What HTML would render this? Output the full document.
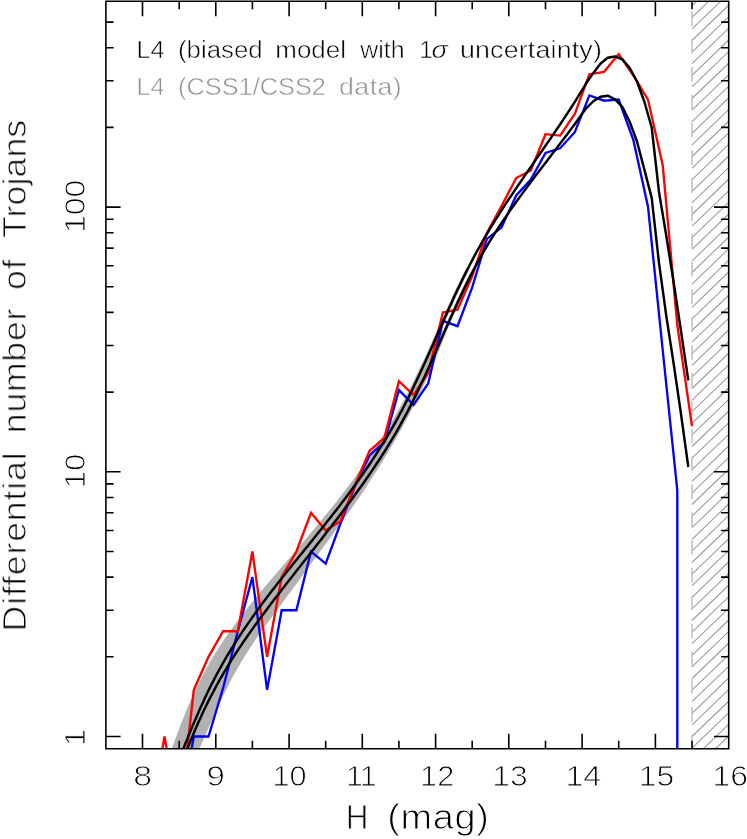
<!DOCTYPE html>
<html lang="en"><head><meta charset="utf-8"><title>L4 Trojans differential H distribution</title>
<style>
html,body{margin:0;padding:0;background:#fff;}
body{width:747px;height:839px;overflow:hidden;}
svg{display:block;}
text{font-family:"Liberation Sans",sans-serif;}
.thin{stroke:#fff;stroke-width:0.55px;paint-order:fill stroke;}
.thin2{stroke:#fff;stroke-width:0.95px;paint-order:fill stroke;}
</style></head><body>
<svg width="747" height="839" viewBox="0 0 747 839">
<rect width="747" height="839" fill="#fff"/>
<defs><clipPath id="plot"><rect x="105.9" y="1.2" width="622.8" height="747.6"/></clipPath></defs>
<g clip-path="url(#plot)" fill="none" stroke-linejoin="miter" stroke-miterlimit="3">
<path d="M692.0 -5.9 L728.7 -41.2 M692.0 5.7 L728.7 -29.6 M692.0 17.3 L728.7 -18.0 M692.0 28.9 L728.7 -6.4 M692.0 40.5 L728.7 5.2 M692.0 52.1 L728.7 16.8 M692.0 63.7 L728.7 28.4 M692.0 75.3 L728.7 40.0 M692.0 86.9 L728.7 51.6 M692.0 98.5 L728.7 63.2 M692.0 110.1 L728.7 74.8 M692.0 121.7 L728.7 86.4 M692.0 133.3 L728.7 98.0 M692.0 144.9 L728.7 109.6 M692.0 156.5 L728.7 121.2 M692.0 168.1 L728.7 132.8 M692.0 179.7 L728.7 144.4 M692.0 191.3 L728.7 156.0 M692.0 202.9 L728.7 167.6 M692.0 214.5 L728.7 179.2 M692.0 226.1 L728.7 190.8 M692.0 237.7 L728.7 202.4 M692.0 249.3 L728.7 214.0 M692.0 260.9 L728.7 225.6 M692.0 272.5 L728.7 237.2 M692.0 284.1 L728.7 248.8 M692.0 295.7 L728.7 260.4 M692.0 307.3 L728.7 272.0 M692.0 318.9 L728.7 283.6 M692.0 330.5 L728.7 295.2 M692.0 342.1 L728.7 306.8 M692.0 353.7 L728.7 318.4 M692.0 365.3 L728.7 330.0 M692.0 376.9 L728.7 341.6 M692.0 388.5 L728.7 353.2 M692.0 400.1 L728.7 364.8 M692.0 411.7 L728.7 376.4 M692.0 423.3 L728.7 388.0 M692.0 434.9 L728.7 399.6 M692.0 446.5 L728.7 411.2 M692.0 458.1 L728.7 422.8 M692.0 469.7 L728.7 434.4 M692.0 481.3 L728.7 446.0 M692.0 492.9 L728.7 457.6 M692.0 504.5 L728.7 469.2 M692.0 516.1 L728.7 480.8 M692.0 527.7 L728.7 492.4 M692.0 539.3 L728.7 504.0 M692.0 550.9 L728.7 515.6 M692.0 562.5 L728.7 527.2 M692.0 574.1 L728.7 538.8 M692.0 585.7 L728.7 550.4 M692.0 597.3 L728.7 562.0 M692.0 608.9 L728.7 573.6 M692.0 620.5 L728.7 585.2 M692.0 632.1 L728.7 596.8 M692.0 643.7 L728.7 608.4 M692.0 655.3 L728.7 620.0 M692.0 666.9 L728.7 631.6 M692.0 678.5 L728.7 643.2 M692.0 690.1 L728.7 654.8 M692.0 701.7 L728.7 666.4 M692.0 713.3 L728.7 678.0 M692.0 724.9 L728.7 689.6 M692.0 736.5 L728.7 701.2 M692.0 748.1 L728.7 712.8 M692.0 759.7 L728.7 724.4 M692.0 771.3 L728.7 736.0 M692.0 782.9 L728.7 747.6 M692.0 794.5 L728.7 759.2 M692.0 806.1 L728.7 770.8 M692.0 817.7 L728.7 782.4" stroke="#999" stroke-width="1.05"/>
<path d="M692.0 -16.63 V748.8" stroke="#c0c0c0" stroke-width="1.5" stroke-dasharray="14.7 13.13" stroke-dashoffset="0"/>
<path d="M165.7 765.9 L167.1 762.0 L168.5 758.1 L169.8 754.2 L171.2 750.3 L172.6 746.4 L174.0 742.5 L175.4 738.7 L176.8 734.9 L178.2 731.1 L179.7 727.3 L181.1 723.5 L182.6 719.8 L184.1 716.0 L185.6 712.3 L187.1 708.6 L188.7 704.9 L190.3 701.3 L191.9 697.7 L193.5 694.0 L195.2 690.5 L196.9 686.9 L198.6 683.3 L200.4 679.8 L202.2 676.3 L204.0 672.8 L205.9 669.3 L207.8 665.9 L209.7 662.5 L211.7 659.1 L213.7 655.7 L215.8 652.3 L217.9 649.0 L220.0 645.7 L222.2 642.4 L224.4 639.1 L226.7 635.9 L229.0 632.6 L231.3 629.4 L233.6 626.2 L236.0 623.0 L238.4 619.8 L240.8 616.6 L243.2 613.5 L245.7 610.3 L248.2 607.2 L250.7 604.0 L253.2 600.9 L255.7 597.8 L258.3 594.7 L260.8 591.6 L263.4 588.5 L266.0 585.5 L268.6 582.4 L271.2 579.3 L273.8 576.3 L276.5 573.2 L279.1 570.1 L281.7 567.1 L284.4 564.0 L287.0 561.0 L289.6 557.9 L292.3 554.8 L294.9 551.8 L297.5 548.7 L300.1 545.6 L302.7 542.6 L305.3 539.5 L307.9 536.4 L310.5 533.3 L313.1 530.2 L315.7 527.1 L318.2 524.0 L320.8 520.9 L323.3 517.8 L325.9 514.7 L328.4 511.6 L330.9 508.5 L333.4 505.3 L335.9 502.2 L338.3 499.0 L340.8 495.9 L343.2 492.7 L345.7 489.5 L348.1 486.4 L350.5 483.2 L352.9 480.0 L355.2 476.8 L357.6 473.5 L359.9 470.3 L362.2 467.1 L364.5 463.8 L366.8 460.6 L369.0 457.3 L371.3 454.0 L373.5 450.7 L375.7 447.4 L377.8 444.1 L380.0 440.8 L382.1 437.5 L384.2 434.1 L386.3 430.7 L388.3 427.4 L390.4 424.0 L392.4 420.6 L394.4 417.2 L396.3 413.7 L398.2 410.3 L400.2 406.8 L402.0 403.4 L403.9 399.9 L405.8 396.4 L407.6 392.9 L409.4 389.3 L411.2 385.8 L413.0 382.2 L414.8 378.6 L416.5 375.0 L418.3 371.4 L420.0 367.8 L421.7 364.1 L423.5 360.5 L425.2 356.8 L426.9 353.1 L428.6 349.3 L430.3 345.6 L432.0 341.8 L433.7 338.1 L435.4 334.3 L437.1 330.4 L437.7 329.0 L446.2 331.6 L445.9 332.4 L444.5 336.3 L443.0 340.1 L441.6 343.9 L440.1 347.7 L438.6 351.5 L437.1 355.3 L435.5 359.0 L433.9 362.7 L432.3 366.5 L430.7 370.2 L429.1 373.9 L427.4 377.5 L425.7 381.2 L424.0 384.8 L422.3 388.4 L420.6 392.1 L418.8 395.7 L417.0 399.2 L415.2 402.8 L413.4 406.4 L411.6 409.9 L409.8 413.4 L407.9 417.0 L406.0 420.5 L404.1 424.0 L402.2 427.5 L400.3 430.9 L398.4 434.4 L396.4 437.8 L394.5 441.3 L392.5 444.7 L390.5 448.1 L388.5 451.5 L386.5 454.9 L384.4 458.3 L382.4 461.7 L380.3 465.1 L378.2 468.4 L376.1 471.8 L373.9 475.1 L371.8 478.5 L369.6 481.8 L367.5 485.1 L365.3 488.4 L363.0 491.7 L360.8 495.0 L358.6 498.3 L356.3 501.6 L354.0 504.9 L351.7 508.2 L349.4 511.4 L347.1 514.7 L344.7 518.0 L342.4 521.2 L340.0 524.5 L337.6 527.7 L335.3 530.9 L332.9 534.2 L330.5 537.4 L328.1 540.6 L325.8 543.9 L323.4 547.1 L321.0 550.3 L318.7 553.5 L316.3 556.7 L313.9 559.9 L311.6 563.1 L309.2 566.4 L306.9 569.6 L304.5 572.8 L302.2 576.0 L299.8 579.2 L297.5 582.4 L295.1 585.6 L292.7 588.8 L290.4 592.1 L288.0 595.3 L285.6 598.5 L283.2 601.7 L280.8 605.0 L278.4 608.2 L276.0 611.4 L273.6 614.7 L271.1 617.9 L268.8 621.2 L266.4 624.5 L264.0 627.8 L261.6 631.0 L259.3 634.3 L257.0 637.6 L254.7 640.9 L252.5 644.3 L250.3 647.6 L248.1 650.9 L245.9 654.3 L243.8 657.7 L241.8 661.0 L239.8 664.4 L237.8 667.8 L235.9 671.2 L234.0 674.7 L232.1 678.1 L230.3 681.6 L228.6 685.0 L226.8 688.5 L225.1 692.0 L223.4 695.5 L221.7 699.0 L220.0 702.6 L218.4 706.1 L216.7 709.7 L215.1 713.3 L213.5 716.9 L211.8 720.6 L210.2 724.2 L208.6 727.9 L207.0 731.6 L205.3 735.3 L203.7 739.0 L202.0 742.7 L200.4 746.5 L198.7 750.3 L197.0 754.1 L195.3 757.9 L193.5 761.7 L191.7 765.6Z" fill="#b2b2b2" stroke="none"/>
<path d="M416.5 380.7 L418.2 377.1 L419.9 373.5 L421.6 369.8 L423.2 366.2 L424.9 362.6 L426.5 358.9 L428.2 355.2 L429.8 351.6 L431.4 347.9 L433.1 344.2 L434.7 340.6 L436.3 336.9 L437.9 333.2 L439.5 329.6 L441.2 325.9 L442.8 322.2 L444.4 318.5 L446.1 314.9 L447.7 311.2 L449.3 307.6 L451.0 303.9 L452.7 300.2 L454.3 296.6 L456.0 293.0 L457.7 289.3 L459.5 285.7 L461.2 282.1 L462.9 278.5 L464.7 274.9 L466.5 271.3 L468.3 267.7" stroke="#b2b2b2" stroke-width="3.6"/>
<path d="M420.6 385.1 L422.3 381.5 L424.0 377.9 L425.7 374.2 L427.3 370.6 L429.0 367.0 L430.6 363.3 L432.2 359.6 L433.8 356.0 L435.5 352.3 L437.1 348.7 L438.7 345.0 L440.3 341.3 L441.9 337.7 L443.5 334.0 L445.1 330.3 L446.8 326.6 L448.4 323.0 L450.0 319.3 L451.6 315.7 L453.3 312.0 L455.0 308.4 L456.6 304.7 L458.3 301.1 L460.0 297.4 L461.7 293.8 L463.4 290.2 L465.2 286.6 L466.9 283.0 L468.7 279.4 L470.5 275.9 L472.4 272.3 L474.2 268.7" stroke="#b2b2b2" stroke-width="3.6"/>
<path d="M179.2 821.0 L193.8 736.5 L208.5 736.5 L223.1 688.0 L237.8 631.2 L252.4 577.1 L267.1 689.9 L281.7 610.2 L296.4 610.2 L311.0 551.5 L325.7 563.6 L340.3 524.0 L355.0 486.0 L369.6 455.0 L384.3 442.3 L398.9 390.1 L413.6 404.8 L428.2 383.4 L442.9 320.9 L457.5 326.2 L472.2 287.4 L486.9 238.9 L501.5 227.6 L516.2 195.4 L530.8 179.5 L545.5 153.0 L560.1 148.3 L574.8 132.2 L589.4 95.4 L604.1 100.7 L618.7 99.6 L633.4 140.2 L648.0 206.7 L662.7 350.0 L677.3 490.2 L677.3 800.0" stroke="#0000ff" stroke-width="2.35"/>
<path d="M149.9 821.0 L164.5 736.5 L179.2 821.0 L193.8 689.9 L208.5 656.8 L223.1 631.2 L237.8 631.2 L252.4 551.5 L267.1 656.8 L281.7 577.1 L296.4 551.5 L311.0 512.8 L325.7 530.5 L340.3 521.3 L355.0 485.0 L369.6 450.8 L384.3 438.0 L398.9 381.2 L413.6 395.0 L428.2 372.7 L442.9 312.4 L457.5 309.6 L472.2 276.0 L486.9 232.9 L501.5 206.1 L516.2 178.0 L530.8 170.5 L545.5 134.2 L560.1 135.6 L574.8 114.0 L589.4 74.2 L604.1 71.8 L618.7 54.1 L633.4 75.5 L648.0 99.6 L662.7 164.9 L677.3 325.0 L692.0 426.2" stroke="#ff0000" stroke-width="2.35"/>
<path d="M176.5 766.2 L178.0 762.2 L179.6 758.3 L181.1 754.3 L182.6 750.4 L184.2 746.6 L185.7 742.7 L187.3 738.9 L188.8 735.1 L190.4 731.3 L191.9 727.5 L193.5 723.8 L195.1 720.1 L196.7 716.4 L198.3 712.7 L199.9 709.1 L201.5 705.5 L203.2 701.9 L204.8 698.3 L206.5 694.7 L208.2 691.1 L209.9 687.6 L211.7 684.1 L213.5 680.6 L215.3 677.1 L217.1 673.6 L219.0 670.2 L220.9 666.8 L222.8 663.3 L224.8 659.9 L226.7 656.5 L228.8 653.2 L230.8 649.8 L232.9 646.5 L235.0 643.1 L237.1 639.8 L239.3 636.5 L241.4 633.2 L243.6 629.9 L245.9 626.6 L248.1 623.4 L250.4 620.1 L252.7 616.8 L255.0 613.6 L257.3 610.4 L259.7 607.1 L262.0 603.9 L264.4 600.7 L266.8 597.5 L269.3 594.3 L271.7 591.1 L274.2 587.9 L276.6 584.8 L279.1 581.6 L281.6 578.4 L284.1 575.3 L286.7 572.1 L289.2 568.9 L291.7 565.8 L294.2 562.6 L296.8 559.5 L299.3 556.3 L301.9 553.2 L304.4 550.0 L307.0 546.9 L309.5 543.7 L312.1 540.6 L314.6 537.4 L317.1 534.3 L319.7 531.1 L322.2 528.0 L324.7 524.8 L327.2 521.6 L329.7 518.5 L332.2 515.3 L334.7 512.1 L337.1 509.0 L339.6 505.8 L342.0 502.6 L344.4 499.4 L346.8 496.2 L349.2 493.0 L351.6 489.8 L353.9 486.5 L356.3 483.3 L358.6 480.1 L360.9 476.8 L363.2 473.5 L365.4 470.3 L367.7 467.0 L369.9 463.7 L372.1 460.4 L374.3 457.1 L376.4 453.8 L378.5 450.4 L380.7 447.1 L382.8 443.7 L384.8 440.3 L386.9 437.0 L388.9 433.6 L390.9 430.1 L392.9 426.7 L394.8 423.3 L396.8 419.8 L398.7 416.3 L400.5 412.8 L402.4 409.3 L404.2 405.8 L406.0 402.2 L407.8 398.7 L409.6 395.1 L411.4 391.5 L413.1 387.9 L414.8 384.3 L416.5 380.7 L418.2 377.1 L419.9 373.5 L421.6 369.8 L423.2 366.2 L424.9 362.6 L426.5 358.9 L428.2 355.2 L429.8 351.6 L431.4 347.9 L433.1 344.2 L434.7 340.6 L436.3 336.9 L437.9 333.2 L439.5 329.6 L441.2 325.9 L442.8 322.2 L444.4 318.5 L446.1 314.9 L447.7 311.2 L449.3 307.6 L451.0 303.9 L452.7 300.2 L454.3 296.6 L456.0 293.0 L457.7 289.3 L459.5 285.7 L461.2 282.1 L462.9 278.5 L464.7 274.9 L466.5 271.3 L468.3 267.7 L470.1 264.2 L472.0 260.6 L473.8 257.1 L475.7 253.6 L477.6 250.1 L479.6 246.6 L481.5 243.1 L483.5 239.6 L485.5 236.2 L487.6 232.8 L489.6 229.3 L491.7 225.9 L493.8 222.5 L495.9 219.2 L498.1 215.8 L500.2 212.4 L502.4 209.1 L504.6 205.7 L506.7 202.4 L508.9 199.0 L511.2 195.7 L513.4 192.4 L515.6 189.1 L517.9 185.8 L520.1 182.5 L522.4 179.2 L524.6 175.9 L526.9 172.6 L529.2 169.3 L531.5 166.0 L533.7 162.7 L536.0 159.4 L538.3 156.1 L540.6 152.8 L542.9 149.6 L545.1 146.3 L547.4 143.0 L549.7 139.7 L551.9 136.4 L554.2 133.1 L556.4 129.8 L558.7 126.5 L560.9 123.2 L563.1 119.8 L565.3 116.5 L567.5 113.2 L569.7 109.8 L571.8 106.5 L574.0 103.1 L576.1 99.8 L578.2 96.4 L580.3 93.0 L582.4 89.6 L584.5 86.2 L586.2 83.3 L593.0 73.4 L600.4 63.7 L607.7 57.7 L615.0 56.5 L622.4 59.3 L629.7 68.1 L637.0 81.5 L644.3 101.5 L651.7 127.5 L659.0 192.0 L666.3 236.0 L673.7 282.5 L681.0 331.0 L688.3 380.4" stroke="#000" stroke-width="2.45" stroke-linejoin="round"/>
<path d="M180.9 765.6 L182.4 761.8 L183.8 757.9 L185.3 754.1 L186.8 750.3 L188.3 746.5 L189.8 742.7 L191.3 739.0 L192.9 735.3 L194.4 731.5 L196.0 727.9 L197.6 724.2 L199.2 720.6 L200.9 716.9 L202.5 713.3 L204.2 709.7 L205.9 706.2 L207.7 702.6 L209.4 699.1 L211.2 695.6 L213.1 692.1 L214.9 688.6 L216.8 685.1 L218.7 681.7 L220.6 678.2 L222.6 674.8 L224.6 671.4 L226.6 668.0 L228.7 664.6 L230.8 661.2 L232.9 657.9 L235.0 654.5 L237.2 651.2 L239.4 647.9 L241.6 644.6 L243.8 641.3 L246.1 638.0 L248.4 634.7 L250.7 631.4 L253.0 628.2 L255.4 624.9 L257.7 621.7 L260.1 618.4 L262.5 615.2 L264.9 612.0 L267.3 608.8 L269.7 605.5 L272.1 602.3 L274.6 599.1 L277.0 595.9 L279.5 592.8 L281.9 589.6 L284.4 586.4 L286.8 583.2 L289.3 580.0 L291.8 576.9 L294.3 573.7 L296.7 570.5 L299.2 567.4 L301.7 564.2 L304.2 561.1 L306.7 557.9 L309.2 554.7 L311.7 551.6 L314.1 548.4 L316.6 545.3 L319.1 542.1 L321.6 538.9 L324.0 535.8 L326.5 532.6 L328.9 529.4 L331.4 526.3 L333.8 523.1 L336.3 519.9 L338.7 516.7 L341.1 513.5 L343.5 510.3 L345.9 507.1 L348.3 503.9 L350.7 500.7 L353.1 497.5 L355.4 494.2 L357.7 491.0 L360.1 487.8 L362.4 484.5 L364.7 481.3 L367.0 478.0 L369.2 474.7 L371.5 471.4 L373.7 468.1 L375.9 464.8 L378.1 461.5 L380.3 458.2 L382.4 454.8 L384.6 451.5 L386.7 448.1 L388.8 444.7 L390.8 441.3 L392.9 437.9 L394.9 434.5 L396.9 431.1 L398.9 427.6 L400.8 424.2 L402.7 420.7 L404.6 417.2 L406.5 413.7 L408.3 410.1 L410.1 406.6 L411.9 403.1 L413.7 399.5 L415.5 395.9 L417.2 392.3 L418.9 388.7 L420.6 385.1 L422.3 381.5 L424.0 377.9 L425.7 374.2 L427.3 370.6 L429.0 367.0 L430.6 363.3 L432.2 359.6 L433.8 356.0 L435.5 352.3 L437.1 348.7 L438.7 345.0 L440.3 341.3 L441.9 337.7 L443.5 334.0 L445.1 330.3 L446.8 326.6 L448.4 323.0 L450.0 319.3 L451.6 315.7 L453.3 312.0 L455.0 308.4 L456.6 304.7 L458.3 301.1 L460.0 297.4 L461.7 293.8 L463.4 290.2 L465.2 286.6 L466.9 283.0 L468.7 279.4 L470.5 275.9 L472.4 272.3 L474.2 268.7 L476.1 265.2 L478.0 261.7 L479.9 258.2 L481.9 254.7 L483.9 251.2 L485.9 247.8 L488.0 244.3 L490.0 240.9 L492.2 237.5 L494.3 234.1 L496.5 230.7 L498.6 227.4 L500.9 224.0 L503.1 220.7 L505.4 217.4 L507.6 214.1 L509.9 210.8 L512.2 207.5 L514.6 204.2 L516.9 200.9 L519.3 197.7 L521.7 194.4 L524.0 191.2 L526.4 188.0 L528.8 184.7 L531.2 181.5 L533.7 178.3 L536.1 175.1 L538.5 171.9 L540.9 168.7 L543.4 165.6 L545.8 162.4 L548.2 159.2 L550.7 156.0 L553.1 152.8 L555.5 149.7 L557.9 146.5 L560.3 143.3 L562.7 140.2 L565.1 137.0 L567.5 133.9 L569.8 130.7 L572.2 127.5 L574.5 124.4 L576.8 121.2 L579.1 118.0 L581.4 114.8 L583.2 112.4 L585.7 108.8 L593.0 101.5 L600.4 96.8 L607.7 95.7 L615.0 99.4 L622.4 107.0 L629.7 121.8 L637.0 141.5 L644.3 169.4 L651.7 197.9 L659.0 263.0 L666.3 316.0 L673.7 364.0 L681.0 414.0 L688.3 467.0" stroke="#000" stroke-width="2.45" stroke-linejoin="round"/>
</g>
<path d="M105.9 1.2 H728.7 V748.8 H105.9 Z M142.5 748.8 v-15.0 M142.5 1.2 v15.0 M179.2 748.8 v-8.0 M179.2 1.2 v8.0 M215.8 748.8 v-15.0 M215.8 1.2 v15.0 M252.4 748.8 v-8.0 M252.4 1.2 v8.0 M289.1 748.8 v-15.0 M289.1 1.2 v15.0 M325.7 748.8 v-8.0 M325.7 1.2 v8.0 M362.3 748.8 v-15.0 M362.3 1.2 v15.0 M398.9 748.8 v-8.0 M398.9 1.2 v8.0 M435.6 748.8 v-15.0 M435.6 1.2 v15.0 M472.2 748.8 v-8.0 M472.2 1.2 v8.0 M508.8 748.8 v-15.0 M508.8 1.2 v15.0 M545.5 748.8 v-8.0 M545.5 1.2 v8.0 M582.1 748.8 v-15.0 M582.1 1.2 v15.0 M618.7 748.8 v-8.0 M618.7 1.2 v8.0 M655.4 748.8 v-15.0 M655.4 1.2 v15.0 M692.0 748.8 v-8.0 M692.0 1.2 v8.0 M105.9 736.5 h14.7 M728.7 736.5 h-14.7 M105.9 656.8 h7.7 M728.7 656.8 h-7.7 M105.9 610.2 h7.7 M728.7 610.2 h-7.7 M105.9 577.1 h7.7 M728.7 577.1 h-7.7 M105.9 551.5 h7.7 M728.7 551.5 h-7.7 M105.9 530.5 h7.7 M728.7 530.5 h-7.7 M105.9 512.8 h7.7 M728.7 512.8 h-7.7 M105.9 497.5 h7.7 M728.7 497.5 h-7.7 M105.9 483.9 h7.7 M728.7 483.9 h-7.7 M105.9 471.8 h14.7 M728.7 471.8 h-14.7 M105.9 392.1 h7.7 M728.7 392.1 h-7.7 M105.9 345.5 h7.7 M728.7 345.5 h-7.7 M105.9 312.4 h7.7 M728.7 312.4 h-7.7 M105.9 286.8 h7.7 M728.7 286.8 h-7.7 M105.9 265.8 h7.7 M728.7 265.8 h-7.7 M105.9 248.1 h7.7 M728.7 248.1 h-7.7 M105.9 232.8 h7.7 M728.7 232.8 h-7.7 M105.9 219.2 h7.7 M728.7 219.2 h-7.7 M105.9 207.1 h14.7 M728.7 207.1 h-14.7 M105.9 127.4 h7.7 M728.7 127.4 h-7.7 M105.9 80.8 h7.7 M728.7 80.8 h-7.7 M105.9 47.7 h7.7 M728.7 47.7 h-7.7 M105.9 22.1 h7.7 M728.7 22.1 h-7.7" fill="none" stroke="#000" stroke-width="1.6" stroke-linecap="butt" stroke-linejoin="miter"/>
<g fill="#000" class="thin" opacity="0.999">
<g id="leg1" font-size="24.6">
<text transform="translate(136.5 57.9) scale(1.023 1)" letter-spacing="0.00">L4</text>
<text transform="translate(178.0 57.9) scale(1.049 1)" letter-spacing="0.00">(biased</text>
<text transform="translate(275.3 57.9) scale(1.054 1)" letter-spacing="0.00">model</text>
<text transform="translate(360.3 57.9) scale(1.011 1)" letter-spacing="0.00">with</text>
<text transform="translate(419.3 57.9) scale(1.000 1)" letter-spacing="0.00">1</text>
<text transform="translate(431.5 57.9) scale(1.101 1)" letter-spacing="0.00" font-style="italic">σ</text>
<text transform="translate(459.9 57.9) scale(1.090 1)" letter-spacing="0.16">uncertainty)</text>
</g>
<g id="leg2" font-size="24.6" fill="#909090">
<text transform="translate(136.5 95.2) scale(1.023 1)" letter-spacing="0.00">L4</text>
<text transform="translate(178.0 95.2) scale(1.031 1)" letter-spacing="0.00">(CSS1/CSS2</text>
<text transform="translate(339.0 95.2) scale(1.090 1)" letter-spacing="0.39">data)</text>
</g>
<g id="ylab" class="thin2" transform="translate(26 628.3) rotate(-90)" font-size="32.7">
<text transform="translate(-3.2 0.0) scale(1.090 1)" letter-spacing="0.79">Differential</text>
<text transform="translate(195.1 0.0) scale(1.090 1)" letter-spacing="0.67">number</text>
<text transform="translate(338.2 0.0) scale(1.090 1)" letter-spacing="0.89">of</text>
<text transform="translate(390.2 0.0) scale(1.090 1)" letter-spacing="0.11">Trojans</text>
</g>
<g id="xlab" class="thin2" font-size="34.8">
<text transform="translate(345.8 829.0) scale(0.904 1)" letter-spacing="0.00">H</text>
<text transform="translate(387.2 829.0) scale(1.090 1)" letter-spacing="0.62">(mag)</text>
</g>
<g font-size="30.3" id="xt" class="thin2">
<text transform="translate(133.2 786.1) scale(1.117 1)" letter-spacing="0.00">8</text>
<text transform="translate(206.4 786.1) scale(1.091 1)" letter-spacing="0.00">9</text>
<text transform="translate(272.5 786.1) scale(1.014 1)" letter-spacing="0.00">10</text>
<text transform="translate(345.9 786.1) scale(1.000 1)" letter-spacing="-0.73">11</text>
<text transform="translate(420.1 786.1) scale(1.014 1)" letter-spacing="0.00">12</text>
<text transform="translate(492.3 786.1) scale(1.050 1)" letter-spacing="0.00">13</text>
<text transform="translate(565.4 786.1) scale(1.066 1)" letter-spacing="0.00">14</text>
<text transform="translate(638.8 786.1) scale(1.050 1)" letter-spacing="0.00">15</text>
<text transform="translate(712.6 786.1) scale(1.050 1)" letter-spacing="0.00">16</text>
</g>
<g font-size="30.3" id="yt" class="thin2">
<text transform="translate(85.4 737.5) rotate(-90)" text-anchor="middle">1</text>
<text transform="translate(85.4 486.0) rotate(-90) translate(-2.3 0) scale(1.024 1)" letter-spacing="0.00">10</text>
<text transform="translate(85.4 230.7) rotate(-90) translate(-2.4 0) scale(1.060 1)" letter-spacing="0.00">100</text>
</g>
</g>
</svg>
</body></html>
